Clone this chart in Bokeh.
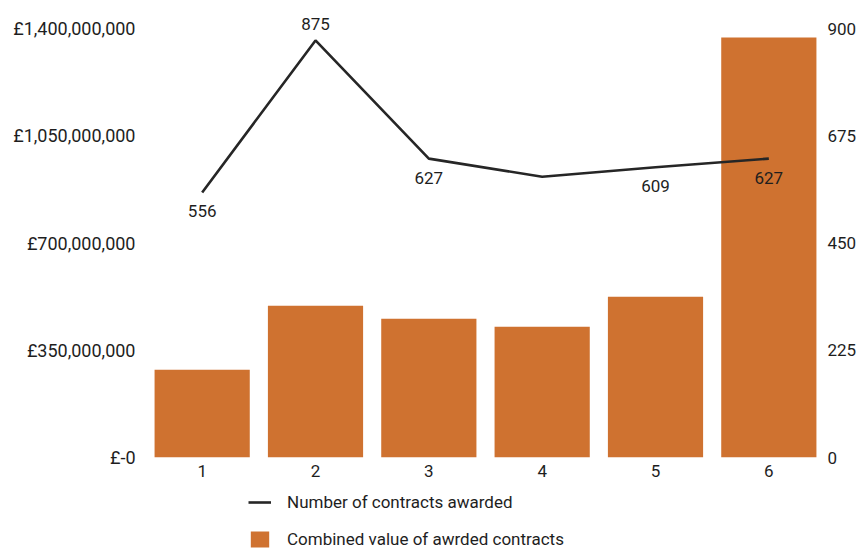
from bokeh.plotting import figure
from bokeh.models import (FactorRange, Range1d, LinearAxis, FixedTicker, Legend, LegendItem,
                          ColumnDataSource)
from bokeh.layouts import column
from bokeh.core.properties import value
from bokeh.embed import file_html
from bokeh.resources import INLINE

# ---- data ----
categories = ["1", "2", "3", "4", "5", "6"]
combined_value = [286e6, 495e6, 453e6, 427e6, 525e6, 1371e6]   # £
contracts = [556, 875, 627, 589, 609, 627]                      # count
label_cats_above = ["2"]
label_vals_above = [875]
label_cats_below = ["1", "3", "5", "6"]
label_vals_below = [556, 627, 609, 627]
left_ticks = [0, 350e6, 700e6, 1050e6, 1400e6]
left_tick_labels = ["£-0", "£350,000,000", "£700,000,000", "£1,050,000,000", "£1,400,000,000"]
right_ticks = [0, 225, 450, 675, 900]
left_max = 1400e6
right_max = 900
series_names = ["Number of contracts awarded", "Combined value of awrded contracts"]

FONT = "Roboto"
FS = "17px"
TXT = "#1e1e1e"
BAR = "#CF7230"
LINE = "#262626"
W = 859

AXIS_PX = 429
HEAD_PX = 18
scale_up = 1 + HEAD_PX / AXIS_PX
MAIN_BOTTOM = 28
LEG_H = 551 - (28 + AXIS_PX + MAIN_BOTTOM)

p = figure(x_range=FactorRange(*categories, range_padding=0),
           y_range=Range1d(0, left_max * scale_up),
           frame_width=680, frame_height=AXIS_PX + HEAD_PX,
           min_border_left=145, min_border_right=34,
           min_border_top=28 - HEAD_PX, min_border_bottom=MAIN_BOTTOM,
           output_backend="svg", toolbar_location=None,
           background_fill_color="white", border_fill_color="white")
p.outline_line_color = None
p.xgrid.grid_line_color = None
p.ygrid.grid_line_color = None
p.extra_y_ranges = {"right": Range1d(0, right_max * scale_up)}

src = ColumnDataSource(dict(cat=categories, val=combined_value, cnt=contracts))
bars = p.vbar(x="cat", top="val", width=0.84, source=src, color=BAR, line_color=None)
ln = p.line(x="cat", y="cnt", source=src, y_range_name="right", line_color=LINE, line_width=2.6)

p.text(x=label_cats_above, y=label_vals_above, text=[str(v) for v in label_vals_above],
       y_range_name="right", text_font=value(FONT), text_font_size=FS, text_color=TXT,
       text_align="center", text_baseline="middle", y_offset=-16)
p.text(x=label_cats_below, y=label_vals_below, text=[str(v) for v in label_vals_below],
       y_range_name="right", text_font=value(FONT), text_font_size=FS, text_color=TXT,
       text_align="center", text_baseline="middle", y_offset=19)

def style_axis(ax, standoff, size=FS):
    ax.axis_line_color = None
    ax.major_tick_line_color = None
    ax.minor_tick_line_color = None
    ax.major_tick_out = 0
    ax.major_tick_in = 0
    ax.major_label_standoff = standoff
    ax.major_label_text_font = FONT
    ax.major_label_text_font_size = size
    ax.major_label_text_color = TXT

p.yaxis.ticker = FixedTicker(ticks=left_ticks)
p.yaxis.major_label_overrides = {t: s for t, s in zip(left_ticks, left_tick_labels)}
style_axis(p.yaxis[0], 10, "18px")
style_axis(p.xaxis[0], 7)

ra = LinearAxis(y_range_name="right", ticker=FixedTicker(ticks=right_ticks))
style_axis(ra, 2)
p.add_layout(ra, "right")

# ---- legend panel below the chart ----
lg = figure(width=W, height=LEG_H, x_range=Range1d(0, 1), y_range=Range1d(0, 1),
            min_border=0, output_backend="svg", toolbar_location=None,
            background_fill_color="white", border_fill_color="white")
lg.axis.visible = False
lg.grid.visible = False
lg.outline_line_color = None
proxy = ColumnDataSource(dict(x=[float("nan")], y=[float("nan")]))
lg_line = lg.line(x="x", y="y", source=proxy, line_color=LINE, line_width=2.6)
lg_bar = lg.vbar(x="x", top="y", width=1, source=proxy, color=BAR, line_color=None)

legend = Legend(items=[LegendItem(label=series_names[0], renderers=[lg_line]),
                       LegendItem(label=series_names[1], renderers=[lg_bar])],
                location=(103, 2), orientation="vertical",
                glyph_width=23, glyph_height=20, label_height=20, spacing=17,
                label_standoff=16, padding=0, margin=0,
                border_line_color=None, background_fill_alpha=0,
                label_text_font=FONT, label_text_font_size=FS, label_text_color=TXT)
lg.add_layout(legend, "center")

layout = column(p, lg, spacing=0)
open("out.html", "w").write(file_html(layout, INLINE))
